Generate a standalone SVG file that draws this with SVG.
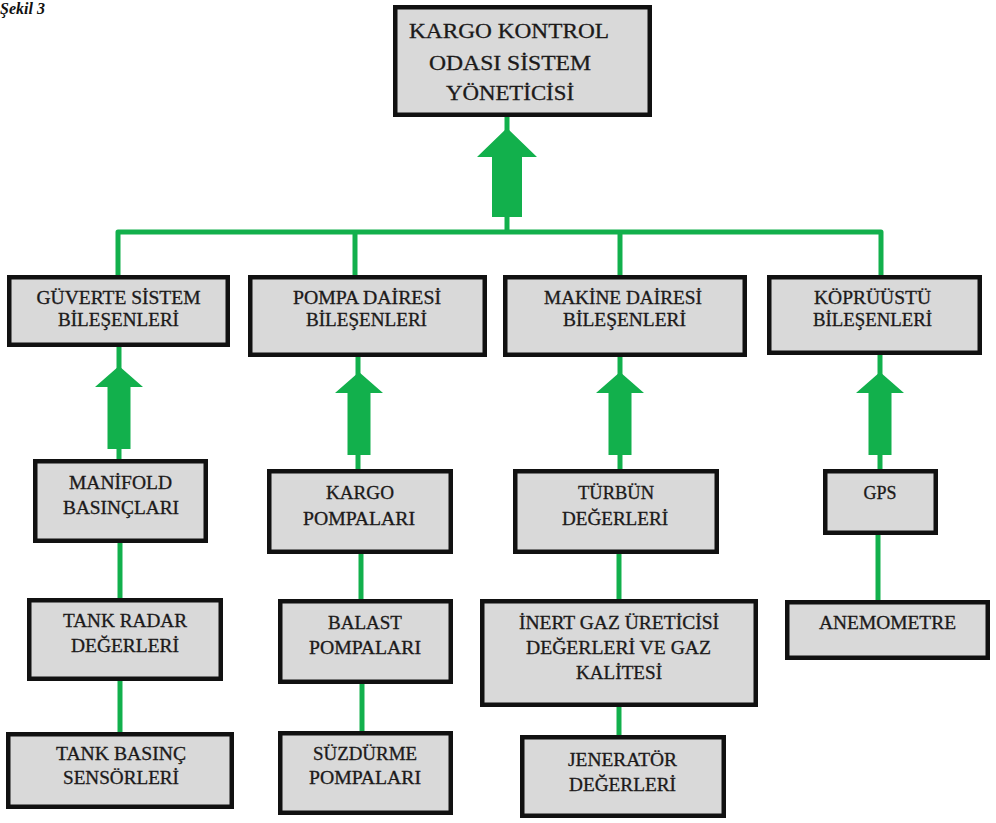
<svg xmlns="http://www.w3.org/2000/svg" width="996" height="823" viewBox="0 0 996 823" font-family="'Liberation Serif', 'Times New Roman', serif">
  <style>
    .box { fill: #d9d9d9; stroke: #111; stroke-width: 4.5; }
    text { font-family: 'Liberation Serif', 'Times New Roman', serif; }
    .lbl { font-size: 18px; fill: #1c1a1a; stroke: #1c1a1a; stroke-width: 0.3; text-anchor: middle; }
    .big { font-size: 20px; }
    .wire { fill: none; stroke: #12b04c; stroke-width: 5; stroke-linejoin: round; }
    .arrow { fill: #12b04c; }
    .title { font-size: 16px; font-weight: bold; font-style: italic; fill: #111; }
  </style>
  <defs>
    <!-- upward block arrow, tip at the origin -->
    <path id="up" d="M0,0 L24,21 L11.5,21 L11.5,83 L-11.5,83 L-11.5,21 L-24,21 Z"/>
  </defs>
  <rect width="996" height="823" fill="#fff"/>

  <text class="title" x="0" y="14">Şekil 3</text>

  <!-- connectors: bus, stems and upward arrows -->
  <g id="connectors">
    <line class="wire" x1="507" y1="117" x2="507" y2="232"/>
    <path class="arrow" d="M507,128 L537,157 L522,157 L522,217 L492,217 L492,157 L477,157 Z"/>
    <path class="wire" d="M118,276 V232 H881 V276"/>
    <line class="wire" x1="355" y1="232" x2="355" y2="276"/>
    <line class="wire" x1="620" y1="232" x2="620" y2="276"/>

    <line class="wire" x1="119" y1="347" x2="119" y2="459"/>
    <line class="wire" x1="358" y1="357" x2="358" y2="469"/>
    <line class="wire" x1="620" y1="357" x2="620" y2="469"/>
    <line class="wire" x1="880" y1="355" x2="880" y2="469"/>
    <use href="#up" class="arrow" transform="translate(119,366)"/>
    <use href="#up" class="arrow" transform="translate(359,372)"/>
    <use href="#up" class="arrow" transform="translate(620,372)"/>
    <use href="#up" class="arrow" transform="translate(880,372)"/>

    <line class="wire" x1="120" y1="543" x2="120" y2="598"/>
    <line class="wire" x1="120" y1="681" x2="120" y2="732"/>
    <line class="wire" x1="361" y1="554" x2="361" y2="599"/>
    <line class="wire" x1="362" y1="684" x2="362" y2="731"/>
    <line class="wire" x1="619" y1="554" x2="619" y2="599"/>
    <line class="wire" x1="619" y1="707" x2="619" y2="735"/>
    <line class="wire" x1="878" y1="535" x2="878" y2="600"/>
  </g>

  <g id="kargo-kontrol">
    <rect class="box" x="395.25" y="7.25" width="254.5" height="107.5"/>
    <text class="lbl big" x="509" y="38" textLength="200" lengthAdjust="spacingAndGlyphs">KARGO KONTROL</text>
    <text class="lbl big" x="510" y="70" textLength="162" lengthAdjust="spacingAndGlyphs">ODASI SİSTEM</text>
    <text class="lbl big" x="510" y="100" textLength="128" lengthAdjust="spacingAndGlyphs">YÖNETİCİSİ</text>
  </g>

  <g id="guverte">
    <rect class="box" x="9.25" y="277.25" width="218.5" height="67.5"/>
    <text class="lbl" x="118.5" y="304" textLength="164" lengthAdjust="spacingAndGlyphs">GÜVERTE SİSTEM</text>
    <text class="lbl" x="118.5" y="326" textLength="121" lengthAdjust="spacingAndGlyphs">BİLEŞENLERİ</text>
  </g>

  <g id="pompa-dairesi">
    <rect class="box" x="250.25" y="277.25" width="234.5" height="77.5"/>
    <text class="lbl" x="367" y="304" textLength="148" lengthAdjust="spacingAndGlyphs">POMPA DAİRESİ</text>
    <text class="lbl" x="366.5" y="326" textLength="121" lengthAdjust="spacingAndGlyphs">BİLEŞENLERİ</text>
  </g>

  <g id="makine-dairesi">
    <rect class="box" x="505.25" y="277.25" width="239.5" height="77.5"/>
    <text class="lbl" x="623" y="304" textLength="158" lengthAdjust="spacingAndGlyphs">MAKİNE DAİRESİ</text>
    <text class="lbl" x="624.5" y="326" textLength="123" lengthAdjust="spacingAndGlyphs">BİLEŞENLERİ</text>
  </g>

  <g id="kopruustu">
    <rect class="box" x="769.25" y="277.25" width="210.5" height="75.5"/>
    <text class="lbl" x="872.5" y="304" textLength="117" lengthAdjust="spacingAndGlyphs">KÖPRÜÜSTÜ</text>
    <text class="lbl" x="872.5" y="326" textLength="119" lengthAdjust="spacingAndGlyphs">BİLEŞENLERİ</text>
  </g>

  <g id="manifold">
    <rect class="box" x="35.25" y="461.25" width="170.5" height="79.5"/>
    <text class="lbl" x="120.5" y="489" textLength="103" lengthAdjust="spacingAndGlyphs">MANİFOLD</text>
    <text class="lbl" x="121" y="514" textLength="116" lengthAdjust="spacingAndGlyphs">BASINÇLARI</text>
  </g>

  <g id="tank-radar">
    <rect class="box" x="29.25" y="600.25" width="191.5" height="78.5"/>
    <text class="lbl" x="125" y="627" textLength="124" lengthAdjust="spacingAndGlyphs">TANK RADAR</text>
    <text class="lbl" x="125" y="652" textLength="108" lengthAdjust="spacingAndGlyphs">DEĞERLERİ</text>
  </g>

  <g id="tank-basinc">
    <rect class="box" x="8.25" y="734.25" width="223.5" height="72.5"/>
    <text class="lbl" x="121" y="760" textLength="130" lengthAdjust="spacingAndGlyphs">TANK BASINÇ</text>
    <text class="lbl" x="121" y="784" textLength="116" lengthAdjust="spacingAndGlyphs">SENSÖRLERİ</text>
  </g>

  <g id="kargo-pompalari">
    <rect class="box" x="269.25" y="471.25" width="181.5" height="80.5"/>
    <text class="lbl" x="360" y="499" textLength="68" lengthAdjust="spacingAndGlyphs">KARGO</text>
    <text class="lbl" x="359" y="525" textLength="112" lengthAdjust="spacingAndGlyphs">POMPALARI</text>
  </g>

  <g id="balast-pompalari">
    <rect class="box" x="280.25" y="601.25" width="170.5" height="80.5"/>
    <text class="lbl" x="365" y="629" textLength="74" lengthAdjust="spacingAndGlyphs">BALAST</text>
    <text class="lbl" x="365" y="654" textLength="112" lengthAdjust="spacingAndGlyphs">POMPALARI</text>
  </g>

  <g id="suzdurme-pompalari">
    <rect class="box" x="280.25" y="733.25" width="170.5" height="79.5"/>
    <text class="lbl" x="365" y="760" textLength="104" lengthAdjust="spacingAndGlyphs">SÜZDÜRME</text>
    <text class="lbl" x="365" y="784" textLength="112" lengthAdjust="spacingAndGlyphs">POMPALARI</text>
  </g>

  <g id="turbun">
    <rect class="box" x="515.25" y="471.25" width="201.5" height="80.5"/>
    <text class="lbl" x="616" y="499" textLength="76" lengthAdjust="spacingAndGlyphs">TÜRBÜN</text>
    <text class="lbl" x="615" y="525" textLength="106" lengthAdjust="spacingAndGlyphs">DEĞERLERİ</text>
  </g>

  <g id="inert-gaz">
    <rect class="box" x="482.25" y="601.25" width="273.5" height="103.5"/>
    <text class="lbl" x="619" y="629" textLength="200" lengthAdjust="spacingAndGlyphs">İNERT GAZ ÜRETİCİSİ</text>
    <text class="lbl" x="618.5" y="654" textLength="185" lengthAdjust="spacingAndGlyphs">DEĞERLERİ VE GAZ</text>
    <text class="lbl" x="619" y="679" textLength="86" lengthAdjust="spacingAndGlyphs">KALİTESİ</text>
  </g>

  <g id="jenerator">
    <rect class="box" x="522.25" y="737.25" width="201.5" height="78.5"/>
    <text class="lbl" x="622.5" y="766" textLength="109" lengthAdjust="spacingAndGlyphs">JENERATÖR</text>
    <text class="lbl" x="622.5" y="791" textLength="107" lengthAdjust="spacingAndGlyphs">DEĞERLERİ</text>
  </g>

  <g id="gps">
    <rect class="box" x="825.25" y="471.25" width="110.5" height="61.5"/>
    <text class="lbl" x="880" y="499" textLength="33" lengthAdjust="spacingAndGlyphs">GPS</text>
  </g>

  <g id="anemometre">
    <rect class="box" x="787.25" y="602.25" width="200.5" height="55.5"/>
    <text class="lbl" x="887.5" y="629" textLength="137" lengthAdjust="spacingAndGlyphs">ANEMOMETRE</text>
  </g>
</svg>
